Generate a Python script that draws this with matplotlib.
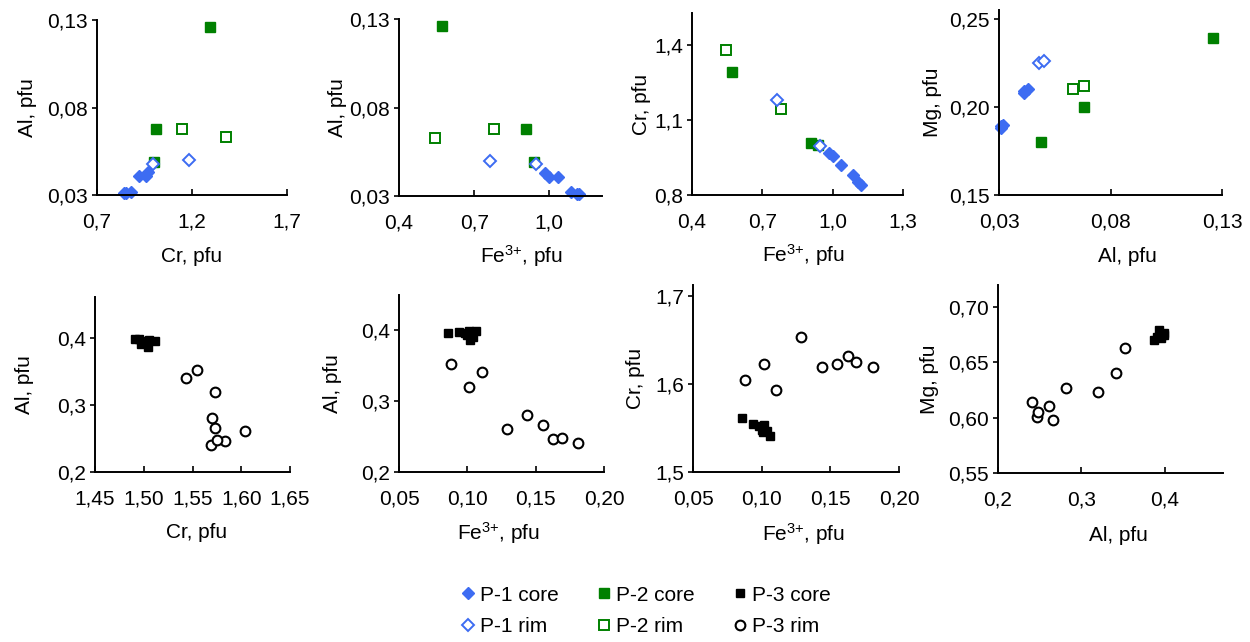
import matplotlib
matplotlib.use("Agg")
import matplotlib.pyplot as plt

plt.rcParams['font.family'] = ['Liberation Sans', 'DejaVu Sans']
plt.rcParams['mathtext.fontset'] = 'custom'
plt.rcParams['mathtext.rm'] = 'Liberation Sans'
plt.rcParams['mathtext.it'] = 'Liberation Sans:italic'

# ---- data (pfu) ----
# P-1 / P-2 samples (top row)
p1_core_cr = [0.84, 0.853, 0.88, 0.92, 0.956, 0.969]
p1_core_al = [0.031, 0.031, 0.032, 0.041, 0.041, 0.043]
p1_core_fe = [1.12, 1.11, 1.087, 1.035, 1.0, 0.984]
p1_core_mg = [0.188, 0.189, 0.190, 0.209, 0.208, 0.210]

p1_rim_cr = [0.997, 1.183]
p1_rim_al = [0.048, 0.050]
p1_rim_fe = [0.945, 0.764]
p1_rim_mg = [0.225, 0.226]

p2_core_cr = [1.295, 1.01, 1.0]
p2_core_al = [0.126, 0.068, 0.049]
p2_core_fe = [0.571, 0.906, 0.937]
p2_core_mg = [0.239, 0.200, 0.180]

p2_rim_cr = [1.38, 1.145]
p2_rim_al = [0.063, 0.068]
p2_rim_fe = [0.544, 0.779]
p2_rim_mg = [0.210, 0.212]

# P-3 samples (bottom row)
p3_core_fe = [0.086, 0.094, 0.098, 0.100, 0.102, 0.104, 0.106, 0.101]
p3_core_al = [0.396, 0.398, 0.396, 0.393, 0.387, 0.391, 0.399, 0.399]
p3_core_cr = [1.562, 1.555, 1.552, 1.548, 1.554, 1.547, 1.541, 1.545]
p3_core_mg = [0.672, 0.676, 0.674, 0.679, 0.670, 0.673, 0.677, 0.675]
# Cr as plotted in the lower-left panel
p3_core_cr_left = [1.512, 1.505, 1.502, 1.498, 1.504, 1.497, 1.491, 1.495]

p3_rim_fe = [0.181, 0.163, 0.169, 0.129, 0.155, 0.144, 0.1015, 0.1105, 0.088]
p3_rim_al = [0.241, 0.247, 0.248, 0.261, 0.266, 0.281, 0.320, 0.341, 0.352]
p3_rim_cr = [1.620, 1.632, 1.625, 1.654, 1.623, 1.620, 1.623, 1.593, 1.605]
p3_rim_mg = [0.614, 0.601, 0.605, 0.611, 0.598, 0.627, 0.623, 0.640, 0.663]
p3_rim_cr_left = [1.569, 1.583, 1.575, 1.604, 1.573, 1.570, 1.573, 1.543, 1.555]

# tick values / labels
ticks_al_top = [0.03, 0.08, 0.13]
labels_al_top = ['0,03', '0,08', '0,13']
ticks_cr_top_x = [0.7, 1.2, 1.7]
labels_cr_top_x = ['0,7', '1,2', '1,7']
ticks_fe_top = [0.4, 0.7, 1.0]
labels_fe_top = ['0,4', '0,7', '1,0']
ticks_fe_top3 = [0.4, 0.7, 1.0, 1.3]
labels_fe_top3 = ['0,4', '0,7', '1,0', '1,3']
ticks_cr_top_y = [0.8, 1.1, 1.4]
labels_cr_top_y = ['0,8', '1,1', '1,4']
ticks_mg_top = [0.15, 0.20, 0.25]
labels_mg_top = ['0,15', '0,20', '0,25']
ticks_cr_bot_x = [1.45, 1.50, 1.55, 1.60, 1.65]
labels_cr_bot_x = ['1,45', '1,50', '1,55', '1,60', '1,65']
ticks_al_bot = [0.2, 0.3, 0.4]
labels_al_bot = ['0,2', '0,3', '0,4']
ticks_fe_bot = [0.05, 0.10, 0.15, 0.20]
labels_fe_bot = ['0,05', '0,10', '0,15', '0,20']
ticks_cr_bot_y = [1.5, 1.6, 1.7]
labels_cr_bot_y = ['1,5', '1,6', '1,7']
ticks_mg_bot = [0.55, 0.60, 0.65, 0.70]
labels_mg_bot = ['0,55', '0,60', '0,65', '0,70']

blue = '#3d6cf2'
green = '#008000'
fe_label = r'Fe$^{3{+}}$, pfu'

W, H = 1250, 642
fig = plt.figure(figsize=(12.5, 6.42), dpi=100)


def make_axes(left, right, top, bottom):
    return fig.add_axes([left / W, 1 - bottom / H, (right - left) / W, (bottom - top) / H])


def style(ax, xlim, ylim, xt, xtl, yt, ytl, xlabel, ylabel, xl_pos, yl_pos):
    ax.set_xlim(*xlim)
    ax.set_ylim(*ylim)
    ax.set_xticks(xt)
    ax.set_xticklabels(xtl)
    ax.set_yticks(yt)
    ax.set_yticklabels(ytl)
    for s in ['top', 'right']:
        ax.spines[s].set_visible(False)
    for s in ['left', 'bottom']:
        ax.spines[s].set_linewidth(1.4)
    ax.tick_params(axis='x', direction='in', length=4, width=1.2, pad=12.5, labelsize=15)
    ax.tick_params(axis='y', direction='out', length=3.5, width=1.2, pad=3, labelsize=15)
    ax.set_xlabel(xlabel, fontsize=15, va='center')
    ax.set_ylabel(ylabel, fontsize=15, va='center')
    ax.xaxis.set_label_coords(xl_pos[0], xl_pos[1])
    ax.yaxis.set_label_coords(yl_pos, 0.5)
    ax.set_facecolor('none')


def top_series(ax, xs, ys):
    # xs, ys: lists of 4 arrays in order p1 core, p1 rim, p2 core, p2 rim
    h1 = ax.plot(xs[2], ys[2], ls='none', marker='s', ms=6.8, mfc=green, mec=green,
                 clip_on=False, label='P-2 core')[0]
    h2 = ax.plot(xs[3], ys[3], ls='none', marker='s', ms=6.6, mfc='white', mec=green,
                 mew=1.4, clip_on=False, label='P-2 rim')[0]
    h3 = ax.plot(xs[0], ys[0], ls='none', marker='D', ms=5.8, mfc=blue, mec=blue,
                 clip_on=False, label='P-1 core')[0]
    h4 = ax.plot(xs[1], ys[1], ls='none', marker='D', ms=5.8, mfc='white', mec=blue,
                 mew=1.4, clip_on=False, label='P-1 rim')[0]
    return h3, h4, h1, h2


def bot_series(ax, xs, ys):
    h1 = ax.plot(xs[0], ys[0], ls='none', marker='s', ms=5.5, mfc='black', mec='black',
                 clip_on=False, label='P-3 core')[0]
    h2 = ax.plot(xs[1], ys[1], ls='none', marker='o', ms=7, mfc='white', mec='black',
                 mew=1.5, clip_on=False, label='P-3 rim')[0]
    return h1, h2


# top row
ax1 = make_axes(97, 287, 20, 195)
hs_top = top_series(ax1, [p1_core_cr, p1_rim_cr, p2_core_cr, p2_rim_cr],
                    [p1_core_al, p1_rim_al, p2_core_al, p2_rim_al])
style(ax1, (0.7, 1.7), (0.03, 0.13), ticks_cr_top_x, labels_cr_top_x,
      ticks_al_top, labels_al_top, 'Cr, pfu', 'Al, pfu', (0.5, -0.35), -0.368)

ax2 = make_axes(399, 602, 19, 196)
top_series(ax2, [p1_core_fe, p1_rim_fe, p2_core_fe, p2_rim_fe],
           [p1_core_al, p1_rim_al, p2_core_al, p2_rim_al])
style(ax2, (0.4, 1.21), (0.03, 0.13), ticks_fe_top, labels_fe_top,
      ticks_al_top, labels_al_top, fe_label, 'Al, pfu', (0.604, -0.34), -0.305)

ax3 = make_axes(692, 903, 13, 195)
top_series(ax3, [p1_core_fe, p1_rim_fe, p2_core_fe, p2_rim_fe],
           [p1_core_cr, p1_rim_cr, p2_core_cr, p2_rim_cr])
style(ax3, (0.4, 1.3), (0.8, 1.53), ticks_fe_top3, labels_fe_top3,
      ticks_cr_top_y, labels_cr_top_y, fe_label, 'Cr, pfu', (0.53, -0.33), -0.237)

ax4 = make_axes(999, 1222, 10, 195)
top_series(ax4, [p1_core_al, p1_rim_al, p2_core_al, p2_rim_al],
           [p1_core_mg, p1_rim_mg, p2_core_mg, p2_rim_mg])
style(ax4, (0.03, 0.13), (0.15, 0.255), ticks_al_top, labels_al_top,
      ticks_mg_top, labels_mg_top, 'Al, pfu', 'Mg, pfu', (0.577, -0.33), -0.296)

# bottom row
ax5 = make_axes(95, 290, 297, 472)
hs_bot = bot_series(ax5, [p3_core_cr_left, p3_rim_cr_left], [p3_core_al, p3_rim_al])
style(ax5, (1.45, 1.65), (0.2, 0.462), ticks_cr_bot_x, labels_cr_bot_x,
      ticks_al_bot, labels_al_bot, 'Cr, pfu', 'Al, pfu', (0.52, -0.346), -0.359)

ax6 = make_axes(399, 604, 295, 472)
bot_series(ax6, [p3_core_fe, p3_rim_fe], [p3_core_al, p3_rim_al])
style(ax6, (0.05, 0.20), (0.2, 0.45), ticks_fe_bot, labels_fe_bot,
      ticks_al_bot, labels_al_bot, fe_label, 'Al, pfu', (0.488, -0.346), -0.322)

ax7 = make_axes(693, 899, 285, 472)
bot_series(ax7, [p3_core_fe, p3_rim_fe], [p3_core_cr, p3_rim_cr])
style(ax7, (0.05, 0.20), (1.5, 1.713), ticks_fe_bot, labels_fe_bot,
      ticks_cr_bot_y, labels_cr_bot_y, fe_label, 'Cr, pfu', (0.535, -0.33), -0.279)

ax8 = make_axes(998, 1223, 285, 473)
bot_series(ax8, [p3_core_al, p3_rim_al], [p3_core_mg, p3_rim_mg])
style(ax8, (0.2, 0.47), (0.55, 0.72), ticks_al_bot, labels_al_bot,
      ticks_mg_bot, labels_mg_bot, 'Al, pfu', 'Mg, pfu', (0.535, -0.33), -0.304)

# legend (column-wise fill)
handles = list(hs_top) + list(hs_bot)
labels = [h.get_label() for h in handles]
fig.legend(handles, labels, ncol=3, loc='center', bbox_to_anchor=(645 / W, 1 - 611 / H),
           frameon=False, fontsize=15, handletextpad=0.2, columnspacing=1.75,
           handlelength=0.8, labelspacing=0.6)

fig.savefig('out.png', dpi=100)
